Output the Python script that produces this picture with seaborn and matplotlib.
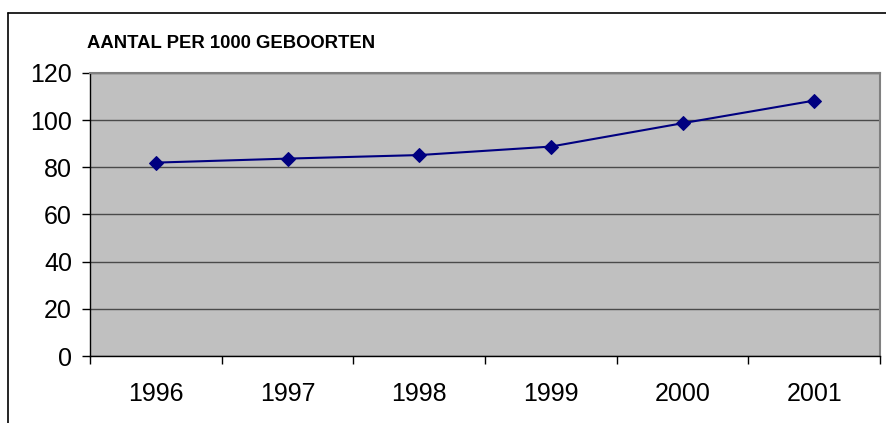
import pandas as pd
import matplotlib
matplotlib.use('Agg')
import matplotlib.pyplot as plt
import seaborn as sns
from matplotlib.ticker import FixedLocator, NullFormatter

# data
years = ['1996', '1997', '1998', '1999', '2000', '2001']
aantal = [82.0, 83.7, 85.2, 88.8, 98.7, 108.3]
y_ticks = [0, 20, 40, 60, 80, 100, 120]

df = pd.DataFrame({'Jaar': years, 'Aantal': aantal})

sns.set_style('white')
plt.rcParams['font.family'] = ['Liberation Sans', 'DejaVu Sans']
plt.rcParams['text.color'] = 'black'
plt.rcParams['xtick.color'] = 'black'
plt.rcParams['ytick.color'] = 'black'

fig = plt.figure(figsize=(8.86, 4.23), dpi=100)
ax = fig.add_axes([90 / 886, 1 - 356 / 423, 790 / 886, 283 / 423])
ax.set_facecolor('#C0C0C0')

sns.lineplot(data=df, x='Jaar', y='Aantal', ax=ax, color='#000080',
             marker='D', markersize=7.5, markeredgecolor='#000080',
             linewidth=1.5, sort=False)

ax.set_xlim(-0.5, len(years) - 0.5)
ax.set_ylim(0, 120)
ax.set_yticks(y_ticks)
ax.yaxis.grid(True, color='#4a4a4a', linewidth=1)
ax.set_axisbelow(True)

# ticks at category boundaries, labels centred on categories
ax.xaxis.set_major_locator(FixedLocator([i - 0.5 for i in range(len(years) + 1)]))
ax.xaxis.set_major_formatter(NullFormatter())
ax.xaxis.set_minor_locator(FixedLocator(range(len(years))))
ax.set_xticklabels(years, minor=True)
ax.tick_params(axis='x', which='major', direction='out', length=6, width=1,
               color='black', bottom=True)
ax.tick_params(axis='x', which='minor', length=0, pad=19, labelsize=18,
               labelcolor='black')
ax.tick_params(axis='y', direction='out', length=6, width=1, color='black',
               left=True, labelsize=18, pad=7, labelcolor='black')

ax.set_xlabel('')
ax.set_ylabel('')

for side in ['left', 'bottom']:
    ax.spines[side].set_color('black')
    ax.spines[side].set_linewidth(1)
for side in ['top', 'right']:
    ax.spines[side].set_color('#808080')
    ax.spines[side].set_linewidth(1.5)

# outer chart border (only top and left visible in the reference)
fig.add_artist(plt.Line2D([8 / 886, 8 / 886], [0, 1 - 13 / 423],
                          color='black', linewidth=1.2))
fig.add_artist(plt.Line2D([8 / 886, 1], [1 - 13 / 423, 1 - 13 / 423],
                          color='black', linewidth=1.2))

fig.text(87 / 886, 1 - 44 / 423, 'AANTAL PER 1000 GEBOORTEN',
         fontsize=13.3, fontweight='bold', ha='left', va='center',
         color='black')

fig.savefig('out.png', dpi=100)
